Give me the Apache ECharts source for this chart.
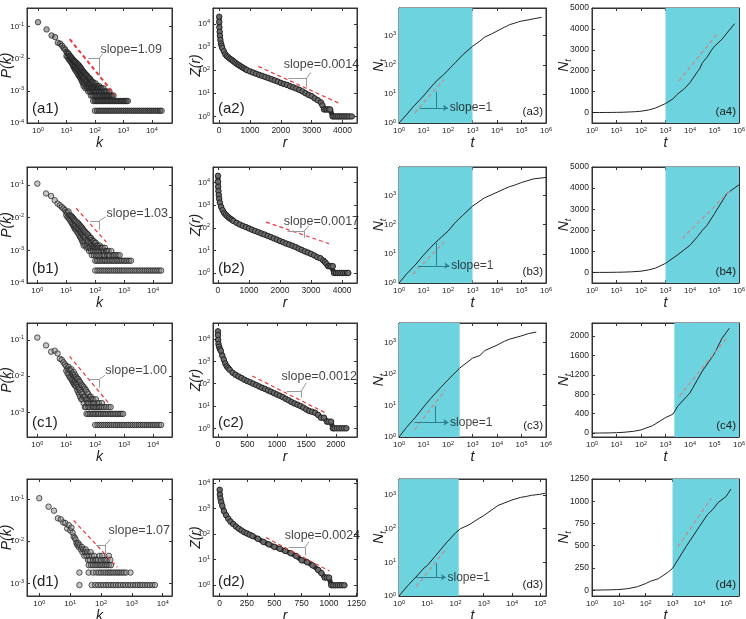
<!DOCTYPE html>
<html>
<head>
<meta charset="utf-8">
<script src="https://cdn.jsdelivr.net/npm/echarts@6/dist/echarts.min.js"></script>
<style>
html,body{margin:0;padding:0;background:#fff}
#main{width:746px;height:619px}
</style>
</head>
<body>
<div id="main"></div>
<script>
// ---------- column 1 : degree distributions P(k) ----------
var degA = [[1,0.134],[2,0.08],[3,0.052],[4,0.046],[5,0.031],[6,0.029],[7,0.025],[8,0.021],[9,0.019],
  [10,0.016],[10,0.012],[11,0.015],[11,0.011],[12,0.014],[12,0.0095],[13,0.012],[13,0.009],[14,0.0115],[14,0.008],[15,0.0105],[15,0.0075],[16,0.0098],[16,0.0068],[17,0.009],[17,0.006],[18,0.0088],[18,0.0055],[19,0.0082],[19,0.005],[20,0.0078],[20,0.0058],[20,0.0045],
  [22,0.0075],[22,0.0052],[22,0.004],[24,0.0068],[24,0.005],[24,0.0036],[26,0.0064],[26,0.0045],[26,0.0031],[28,0.006],[28,0.0041],[28,0.0029],[30,0.0055],[30,0.0038],[30,0.0026],[32,0.005],[32,0.0034],[32,0.0024],[34,0.0046],[34,0.0031],[34,0.0021],[36,0.0043],[36,0.0029],[36,0.0019],[38,0.004],[38,0.0026],[38,0.0017],[40,0.0038],[40,0.0024],[40,0.0014],
  [43,0.0036],[43,0.0026],[43,0.0017],[46,0.0033],[46,0.0021],[46,0.0012],[50,0.0031],[50,0.0019],[50,0.0014],[54,0.0029],[54,0.0021],[54,0.0012],[58,0.0026],[58,0.0017],[58,0.00095],[62,0.0024],[62,0.0014],[62,0.0012],[67,0.0024],[67,0.0017],[67,0.00095],[72,0.0021],[72,0.0012],[72,0.00071],[77,0.0019],[77,0.0014],[77,0.00095],[83,0.0019],[83,0.0012],[83,0.00071],[90,0.0017],[90,0.0012],[90,0.00095],[97,0.0014],[97,0.00095],[97,0.00071],
  [105,0.0017],[105,0.0012],[105,0.00095],[113,0.0014],[113,0.00095],[113,0.00071],[122,0.0014],[122,0.0012],[122,0.00071],[132,0.0012],[132,0.00095],[142,0.0014],[142,0.00095],[142,0.00071],[155,0.0012],[155,0.00071],[168,0.0012],[168,0.00095],[182,0.00095],[182,0.00071],[198,0.0012],[198,0.00071],[215,0.00095],[215,0.00071],[235,0.00095],[235,0.00071],[260,0.00095],[260,0.00071],[290,0.00071],[320,0.00095],[320,0.00071],[360,0.00071],[400,0.00071],[450,0.00071]];
var bandsA = [[2.4e-4,[100,120,140,165,195,230,270,315,370,440,520,610,720,850,1000,1200,1400,1650,1950,2300,2700,3200,3700,4400,5200,6100,7200,8500,10000,11700,13800,16300,19200,22000]],
  [4.8e-4,[87,100,112,125,140,158,178,200,225,252,283,318,357,400,450,505,567,637,715,803,902,1013,1138,1278,1435]]];

var degB = [[1,0.11],[2,0.055],[3,0.046],[4,0.034],[5,0.027],[6,0.024],[7,0.021],[8,0.019],[9,0.017],
  [10,0.015],[10,0.012],[11,0.014],[11,0.0105],[12,0.0155],[12,0.0098],[13,0.012],[13,0.0088],[14,0.0115],[14,0.008],[15,0.011],[15,0.0072],[16,0.0105],[16,0.0066],[17,0.0098],[17,0.006],[18,0.0092],[18,0.0055],[19,0.0085],[19,0.005],[20,0.008],[20,0.0058],[20,0.0045],
  [22,0.0076],[22,0.0052],[22,0.0041],[24,0.0071],[24,0.0048],[24,0.0036],[26,0.0066],[26,0.0045],[26,0.0033],[28,0.0062],[28,0.0043],[28,0.0029],[30,0.0057],[30,0.0038],[30,0.0026],[32,0.0053],[32,0.0036],[32,0.0024],[34,0.005],[34,0.0033],[34,0.0021],[36,0.0047],[36,0.0031],[36,0.0019],[38,0.0043],[38,0.0029],[38,0.0017],[40,0.0041],[40,0.0026],[40,0.0014],
  [43,0.0038],[43,0.0026],[43,0.0019],[46,0.0036],[46,0.0024],[46,0.0014],[50,0.0033],[50,0.0021],[50,0.0012],[54,0.0031],[54,0.0019],[54,0.0014],[58,0.0029],[58,0.0019],[58,0.0012],[62,0.0026],[62,0.0017],[62,0.00095],[67,0.0024],[67,0.0014],[67,0.0012],[72,0.0024],[72,0.0017],[72,0.00095],[77,0.0021],[77,0.0014],[77,0.00071],[83,0.0019],[83,0.0012],[83,0.00095],[90,0.0019],[90,0.0014],[90,0.00071],[97,0.0017],[97,0.0012],[97,0.00095],
  [105,0.0017],[105,0.0012],[105,0.00071],[113,0.0014],[113,0.00095],[122,0.0014],[122,0.0012],[122,0.00071],[132,0.0012],[132,0.00095],[142,0.0014],[142,0.00071],[155,0.0012],[155,0.00095],[168,0.0012],[168,0.00071],[182,0.00095],[182,0.0012],[198,0.00095],[198,0.00071],[215,0.0012],[215,0.00071],[235,0.00095],[260,0.00095],[260,0.00071],[290,0.00095],[290,0.00071],[320,0.00071],[360,0.00095],[400,0.00071],[450,0.00071],[520,0.00071],[600,0.00071],[700,0.00071]];
var bandsB = [[2.4e-4,[100,120,140,165,195,230,270,315,370,440,520,610,720,850,1000,1200,1400,1650,1950,2300,2700,3200,3700,4400,5200,6100,7200,8500,10000,11700,13800,16300,19000]],
  [4.8e-4,[100,115,130,150,170,195,220,250,290,330,380,430,500,570,650,750,860,990,1130,1300,1500,1720]]];

var degC = [[1,0.115],[2,0.07],[3,0.047],[4,0.05],[5,0.042],[6,0.03],[7,0.028],[8,0.024],[9,0.021],
  [10,0.019],[10,0.014],[11,0.016],[11,0.012],[12,0.018],[12,0.011],[13,0.015],[13,0.0095],[14,0.014],[14,0.0091],[15,0.0155],[15,0.0082],[16,0.012],[16,0.0077],[17,0.011],[17,0.0068],[18,0.013],[18,0.0064],[19,0.0095],[19,0.0059],[20,0.011],[20,0.0077],[20,0.0055],
  [22,0.0095],[22,0.0064],[22,0.005],[24,0.0086],[24,0.0059],[24,0.0041],[26,0.0082],[26,0.005],[26,0.0036],[28,0.0073],[28,0.0045],[28,0.0032],[30,0.0068],[30,0.0041],[30,0.0027],[33,0.0059],[33,0.0036],[33,0.0023],[36,0.0055],[36,0.0032],[36,0.0023],[40,0.005],[40,0.0027],[40,0.0018],
  [44,0.0045],[44,0.0027],[44,0.0014],[48,0.0041],[48,0.0023],[48,0.0014],[53,0.0036],[53,0.0023],[53,0.0018],[58,0.0032],[58,0.0018],[58,0.0014],[64,0.0027],[64,0.0023],[64,0.0014],[70,0.0027],[70,0.0018],[77,0.0023],[77,0.0014],[85,0.0023],[85,0.0018],[85,0.0014],[95,0.0018],[95,0.0014],[105,0.0023],[105,0.0014],[120,0.0018],[120,0.0014],[135,0.0018],[135,0.0014],[150,0.0014],[170,0.0018],[170,0.0014],[200,0.0014],[240,0.0014],[290,0.0014],[340,0.0014]];
var bandsC = [[4.5e-4,[100,120,140,165,195,230,270,315,370,440,520,610,720,850,1000,1200,1400,1650,1950,2300,2700,3200,3700,4400,5200,6100,7200,8500,10000,11700,13800,16300,19000]],
  [9.1e-4,[50,57,65,75,85,97,110,125,140,160,185,210,240,275,315,360,410,470,540,620,710,810,920]]];

var degD = [[1,0.105],[2,0.066],[3,0.053],[4,0.035],[5,0.033],[6,0.028],[7,0.027],[8,0.02],[9,0.024],[10,0.018],[11,0.021],[12,0.016],[13,0.013],[14,0.012],[15,0.011],[16,0.0091],[17,0.0082],[18,0.0091],[19,0.0073],[20,0.0082],[22,0.0064],[24,0.0073],[25,0.0055],[27,0.0064],[29,0.0045],[30,0.0055],[32,0.0064],[34,0.0045],[36,0.0055],[38,0.0036],[40,0.0045],[43,0.0036],[46,0.0055],[50,0.0045],[55,0.0036],[60,0.0045],[65,0.0036],[70,0.0036],[80,0.0036],[90,0.0045],[100,0.0036],[110,0.0045],[125,0.0036],[140,0.0036],[160,0.0036],[180,0.0045],[200,0.0036]];
var bandsD = [[9.1e-4,[20,50,65,80,100,120,145,175,210,250,300,360,430,520,620,750,900,1080,1300,1550,1850,2200,2650,3200,3800,4600,5600]],
  [1.8e-3,[20,40,55,70,85,100,120,140,165,190,220,255,300,350,400,470,550,650,900]],
  [2.7e-3,[40,47,55,65,75,88,100,115,135,155,180,210]]];

var fit1 = [[[13,0.04],[500,7.4e-4]],[[22,0.0194],[240,0.0018]],[[13,0.035],[310,0.0017]],[[13,0.031],[340,0.0024]]];
var slope1Txt = ['slope=1.09','slope=1.03','slope=1.00','slope=1.07'];
var slope1At = [[150,0.0194],[235,0.0129],[215,0.0146],[168,0.0177]];
var brk1 = [[[58,0.0104],[142,0.0104],[142,0.003],[186,0.014]],
            [[67,0.008],[140,0.008],[140,0.0042],[230,0.0107]],
            [[67,0.0081],[140,0.0081],[140,0.0048],[215,0.0105]],
            [[69,0.0082],[138,0.0082],[138,0.0047],[200,0.011]]];

// ---------- column 2 : Z(r) ----------
var zipfA = [[1,20000],[3,12000],[8,7000],[15,4500],[25,3000],[40,2000],[60,1400],[80,1100],[100,900],[150,650],[200,480],[250,400],[300,350],[350,310],[400,280],[450,250],[500,220],[550,195],[600,175],[650,160],[700,145],[750,132],[800,120],[850,110],[900,100],[1000,88],[1100,78],[1200,70],[1300,62],[1400,56],[1500,50],[1600,45],[1700,40],[1800,36],[1900,32],[2000,28],[2100,25],[2200,23],[2300,20],[2400,18],[2500,16],[2600,14],[2700,12],[2800,10],[2900,8.5],[3000,7.5],[3100,6],[3200,5],[3300,4],[3350,3],[3400,2],[3450,2],[3500,2],[3550,2],[3600,2],[3680,1],[3740,1],[3800,1],[3860,1],[3920,1],[3980,1],[4040,1],[4100,1],[4160,1],[4220,1],[4300,1]];
var zipfB = [[1,20000],[3,11000],[8,6500],[15,4200],[25,2800],[40,1900],[60,1300],[100,850],[150,600],[200,450],[250,380],[300,320],[350,280],[400,250],[450,225],[500,200],[600,165],[700,140],[800,122],[900,107],[1000,94],[1100,82],[1200,72],[1300,64],[1400,56],[1500,50],[1600,44],[1700,39],[1800,34],[1900,30],[2000,26],[2100,23],[2200,20],[2300,18],[2400,16],[2500,14],[2600,12],[2700,10.5],[2800,9],[2900,8],[3000,7],[3100,6],[3200,5],[3300,4.5],[3400,3.5],[3450,3],[3500,2.5],[3550,2],[3600,2],[3650,2],[3700,2],[3740,1],[3800,1],[3860,1],[3920,1],[3980,1],[4040,1],[4100,1],[4160,1],[4200,1]];
var zipfC = [[1,22000],[2,15000],[5,9000],[10,6000],[20,4500],[35,3500],[50,3000],[75,1800],[100,1200],[125,800],[150,600],[175,500],[200,420],[250,310],[300,250],[350,210],[400,180],[450,150],[500,130],[550,115],[600,100],[650,87],[700,75],[750,66],[800,58],[850,50],[900,44],[950,38],[1000,33],[1050,29],[1100,25],[1150,21],[1200,18],[1250,15],[1300,13],[1350,11.5],[1400,10],[1450,8.5],[1500,7],[1550,6],[1600,5.5],[1650,5],[1700,4],[1750,3],[1800,3],[1850,2],[1880,2],[1920,2],[1950,1],[1980,1],[2020,1],[2060,1],[2100,1],[2140,1],[2180,1]];
var zipfD = [[1,5500],[3,3500],[8,2500],[15,1800],[25,1300],[40,800],[60,550],[80,400],[100,310],[125,250],[150,200],[175,165],[200,140],[225,120],[250,107],[275,95],[300,85],[350,66],[400,50],[450,40],[500,32],[550,27],[600,22],[650,18],[700,14],[750,9.5],[800,8],[850,6],[900,4],[930,3],[960,2],[980,2],[1000,2],[1020,1],[1040,1],[1060,1],[1080,1],[1100,1],[1120,1],[1140,1]];

var fit2 = [[[1268,145],[3870,3.8]],[[1549,178],[3574,20]],[[583,220],[1833,4.8]],[[423,74],[1003,3.6]]];
var slope2Txt = ['slope=0.0014','slope=0.0017','slope=0.0012','slope=0.0024'];
var slope2At = [[2080,170],[2100,195],[1070,219],[590,85]];
var brk2 = [[[2244,45],[2840,45],[2840,18.7],[2970,79]],
            [[2240,71],[2774,71],[2774,36],[2934,126]],
            [[1167,47],[1417,47],[1417,24],[1500,110]],
            [[631,30],[780,30],[780,15],[815,50]]];

// ---------- columns 3 & 4 : N_t vs t ----------
var ntA = [[1,1],[2,1.9],[4,3.8],[7,6.2],[10,8.5],[20,17],[40,32],[60,42],[100,65],[200,120],[400,220],[1000,430],[2000,650],[3000,870],[6000,1150],[10000,1430],[20000,1950],[25000,2100],[32000,2380],[50000,2650],[75000,2980],[100000,3170],[200000,3500],[320000,3800],[660000,4250]];
var ntB = [[1,1],[2,2],[5,4.5],[10,9],[20,17],[40,30],[100,60],[200,120],[400,210],[1000,430],[3000,820],[10000,1290],[20000,1690],[32000,2000],[50000,2240],[100000,2790],[320000,3740],[1000000,4160]];
var ntC = [[1,1],[2,2],[5,4.5],[10,9],[20,17],[50,37],[100,66],[300,155],[1000,320],[2000,390],[3200,560],[10000,830],[20000,1100],[32000,1280],[100000,1640],[200000,1950],[400000,2160]];
var ntD = [[1,1],[2,2],[5,4.5],[8,7],[10,8],[20,16],[50,40],[100,75],[150,100],[300,130],[630,195],[1000,245],[3200,490],[10000,715],[20000,850],[32000,910],[50000,985],[100000,1055],[150000,1137]];

var fit3 = [[[4.4,2.2],[67,31]],[[3.7,2],[72,26]],[[4.3,1.7],[79,32]],[[4,1.9],[50,27]]];
var tri3H = [[[7,3.3],[100,3.3]],[[6,3.9],[115,3.9]],[[4.3,2.9],[105,2.9]],[[4,3.6],[46,3.6]]];
var tri3V = [[[34,3.3],[34,12]],[[33,3.9],[33,24]],[[31,2.9],[31,9.7]],[[21,3.6],[21,9.5]]];
var slope3At = [[112,3.3],[128,3.9],[116,2.9],[50,3.6]];
var fit4 = [[[3450,1508],[140000,3810]],[[4800,1610],[460000,3900]],[[3700,764],[340000,1980]],[[1590,489],[27500,1035]]];
var shade3 = [[1,1000],[1,1000],[1,300],[1,130]];
var shade4 = [[1000,1e6],[1000,1e6],[2300,1e6],[1000,3e5]];

// ---------- axes ----------
var kRange = [[0.41,51000],[0.44,45000],[0.44,45000],[0.4,20000]];
var pRange = [[1e-4,0.37],[1e-4,0.355],[2.1e-4,0.29],[5e-4,0.3]];
var rRange = [[-200,4470],[-160,4480],[-83,2360],[-60,1255]];
var zRange = [[0.52,48000],[0.36,49000],[0.41,52000],[0.38,14500]];
var t3Range = [[1,1e6],[1,1e6],[1,1e6],[1,1.6e5]];
var n3Range = [[1,8900],[1,9500],[1,4200],[1,3000]];
var t4Range = [[1,1e6],[1,1e6],[1,1e6],[1,3e5]];
var n4Range = [[-500,5000],[-500,5000],[-80,2270],[-65,1250]];
var rTicks = [[0,1000,2000,3000,4000],[0,1000,2000,3000,4000],[0,500,1000,1500,2000],[0,250,500,750,1000,1250]];
var n4Ticks = [[0,1000,2000,3000,4000,5000],[0,1000,2000,3000,4000,5000],[0,400,800,1200,1600,2000],[0,250,500,750,1000,1250]];
var panelTags = [['(a1)','(a2)','(a3)','(a4)'],['(b1)','(b2)','(b3)','(b4)'],['(c1)','(c2)','(c3)','(c4)'],['(d1)','(d2)','(d3)','(d4)']];

var degData = [degA, degB, degC, degD];
var degBands = [bandsA, bandsB, bandsC, bandsD];
var zipfData = [zipfA, zipfB, zipfC, zipfD];
var ntData = [ntA, ntB, ntC, ntD];

var FONT = '"Liberation Sans", Arial, Helvetica, sans-serif';
var RED = '#e8383d';
var CYAN = '#6dd3df';
var TEAL = '#2f7e8e';
var FIT34 = '#c98a84';

var colBox = [[27,145],[213,144],[399,147],[592,147]];
var rowBox = [[8,115],[167,116],[323,114],[479,117]];

function logLabel(v) {
    var l = Math.log(v) / Math.LN10;
    var e = Math.round(l);
    if (Math.abs(l - e) > 1e-6) return '';
    return '{b|10}{s|' + e + '}';
}

function plainLabel(v) { return String(v); }

function makeAxis(gi, type, range, name, gap, ticks, mirror) {
    var ax = {
        type: type, gridIndex: gi, min: range[0], max: range[1],
        axisLine: {show: true, onZero: false, lineStyle: {color: '#333', width: 1}},
        axisTick: {show: true, inside: true, length: 3, lineStyle: {color: '#333'}},
        axisLabel: {show: !mirror, fontFamily: FONT, fontSize: 8.5, color: '#222', margin: 3, formatter: plainLabel,
            rich: {b: {fontFamily: FONT, fontSize: 8, color: '#222'},
                   s: {fontFamily: FONT, fontSize: 5.5, color: '#222', verticalAlign: 'top', padding: [0, 0, 4, 0]}}},
        splitLine: {show: false},
        minorTick: {show: false}
    };
    if (!mirror) {
        ax.name = name;
        ax.nameLocation = 'middle';
        ax.nameGap = gap;
        ax.nameMoveOverlap = false;
        ax.nameTextStyle = {fontFamily: FONT, fontSize: 14, fontStyle: 'italic', color: '#222',
            rich: {n: {fontFamily: FONT, fontSize: 14, fontStyle: 'italic', color: '#222'},
                   t: {fontFamily: FONT, fontSize: 9, fontStyle: 'italic', color: '#222', padding: [9, 0, 0, 0]}}};
    }
    if (type === 'log') {
        ax.logBase = 10;
        ax.axisLabel.formatter = logLabel;
    }
    if (ticks) {
        ax.axisLabel.customValues = ticks;
        ax.axisTick.customValues = ticks;
    }
    return ax;
}

function segs(list) {
    return list.map(function (s) { return [{coord: s[0]}, {coord: s[1]}]; });
}

function textSeries(gi, pt, txt, size) {
    return {type: 'scatter', xAxisIndex: gi, yAxisIndex: gi, data: [pt], symbolSize: 1, silent: true, z: 6,
        itemStyle: {color: 'transparent'},
        label: {show: true, position: 'right', distance: 0, formatter: txt, fontFamily: FONT, fontSize: size, color: '#111'}};
}

function bracketSeries(gi, b, color) {
    return {type: 'line', xAxisIndex: gi, yAxisIndex: gi, data: [], silent: true, z: 5,
        markLine: {silent: true, symbol: ['none', 'none'], animation: false, label: {show: false},
            lineStyle: {color: color, width: 1, type: 'solid'},
            data: segs([[b[0], b[1]], [b[1], b[2]], [b[1], b[3]]])}};
}

var grids = [], xs = [], ys = [], xm = [], ym = [], series = [], titles = [];

for (var r = 0; r < 4; r++) {
    for (var c = 0; c < 4; c++) {
        grids.push({left: colBox[c][0], top: rowBox[r][0], width: colBox[c][1], height: rowBox[r][1],
            show: true, borderColor: '#333', borderWidth: 1, backgroundColor: 'transparent',
            containLabel: false, outerBoundsMode: 'none'});
        var tag = panelTags[r][c];
        if (c < 2) {
            titles.push({text: tag, left: colBox[c][0] + 5, top: rowBox[r][0] + rowBox[r][1] - 22, padding: 0,
                textStyle: {fontFamily: FONT, fontSize: 15, fontWeight: 'normal', color: '#222'}});
        } else {
            titles.push({text: tag, right: 746 - (colBox[c][0] + colBox[c][1]) + 3, top: rowBox[r][0] + rowBox[r][1] - 17, padding: 0,
                textStyle: {fontFamily: FONT, fontSize: 11.5, fontWeight: 'normal', color: '#222'}});
        }
    }
}

function addAxes(g, xt, xr, xn, xg, xticks, yt, yr, yn, yg, yticks) {
    xs[g] = makeAxis(g, xt, xr, xn, xg, xticks);
    ys[g] = makeAxis(g, yt, yr, yn, yg, yticks);
    var mx = makeAxis(g, xt, xr, '', 0, xticks, true);
    mx.position = 'top';
    var my = makeAxis(g, yt, yr, '', 0, yticks, true);
    my.position = 'right';
    xm[g] = mx;
    ym[g] = my;
}

for (var r = 0; r < 4; r++) {
    // column 1
    var g = r * 4;
    addAxes(g, 'log', kRange[r], 'k', 13, null, 'log', pRange[r], 'P(k)', 13, null);
    var pts = degData[r].slice();
    degBands[r].forEach(function (b) { b[1].forEach(function (k) { pts.push([k, b[0]]); }); });
    series.push({type: 'scatter', xAxisIndex: g, yAxisIndex: g, data: pts, symbolSize: 5.5, z: 3,
        itemStyle: {color: r === 0 ? 'rgba(80,80,80,0.6)' : 'rgba(130,130,130,0.55)', borderColor: '#1e1e1e', borderWidth: 0.9}});
    series.push({type: 'line', xAxisIndex: g, yAxisIndex: g, data: fit1[r], symbol: 'none', z: 4,
        lineStyle: {color: RED, width: r === 0 ? 2 : 1.2, type: [4, 3]}});
    series.push(bracketSeries(g, brk1[r], '#9a9a9a'));
    series.push(textSeries(g, slope1At[r], slope1Txt[r], 12.5));

    // column 2
    g = r * 4 + 1;
    addAxes(g, 'value', rRange[r], 'r', 13, rTicks[r], 'log', zRange[r], 'Z(r)', 10, null);
    series.push({type: 'line', xAxisIndex: g, yAxisIndex: g, data: zipfData[r], z: 3,
        symbol: 'circle', symbolSize: 5.5, showAllSymbol: true,
        itemStyle: {color: '#6a6a6a', borderColor: '#1e1e1e', borderWidth: 0.9},
        lineStyle: {color: '#2e2e2e', width: 5}});
    series.push({type: 'line', xAxisIndex: g, yAxisIndex: g, data: fit2[r], symbol: 'none', z: 4,
        lineStyle: {color: RED, width: 1.2, type: [4, 3]}});
    series.push(bracketSeries(g, brk2[r], '#9a9a9a'));
    series.push(textSeries(g, slope2At[r], slope2Txt[r], 12.5));

    // column 3
    g = r * 4 + 2;
    addAxes(g, 'log', t3Range[r], 't', 13, null, 'log', n3Range[r], '{n|N}{t|t}', 11, null);
    series.push({type: 'line', xAxisIndex: g, yAxisIndex: g, data: ntData[r], symbol: 'none', z: 1, silent: true,
        lineStyle: {width: 0, opacity: 0},
        markArea: {silent: true, itemStyle: {color: CYAN}, data: [[{xAxis: shade3[r][0]}, {xAxis: shade3[r][1]}]]}});
    series.push({type: 'line', xAxisIndex: g, yAxisIndex: g, data: ntData[r], symbol: 'none', z: 4,
        lineStyle: {color: '#222', width: 1}});
    series.push({type: 'line', xAxisIndex: g, yAxisIndex: g, data: fit3[r], symbol: 'none', z: 4,
        lineStyle: {color: FIT34, width: 1.2, type: [4, 3]}});
    series.push({type: 'line', xAxisIndex: g, yAxisIndex: g, data: [], silent: true, z: 5,
        markLine: {silent: true, symbol: ['none', 'none'], label: {show: false},
            lineStyle: {color: TEAL, width: 1, type: 'solid'},
            data: [[{coord: tri3H[r][0]}, {coord: tri3H[r][1], symbol: 'arrow', symbolSize: 5}],
                   [{coord: tri3V[r][0]}, {coord: tri3V[r][1]}]]}});
    series.push(textSeries(g, slope3At[r], 'slope=1', 12));

    // column 4
    g = r * 4 + 3;
    addAxes(g, 'log', t4Range[r], 't', 13, null, 'value', n4Range[r], '{n|N}{t|t}', 19, n4Ticks[r]);
    series.push({type: 'line', xAxisIndex: g, yAxisIndex: g, data: ntData[r], symbol: 'none', z: 1, silent: true,
        lineStyle: {width: 0, opacity: 0},
        markArea: {silent: true, itemStyle: {color: CYAN}, data: [[{xAxis: shade4[r][0]}, {xAxis: shade4[r][1]}]]}});
    series.push({type: 'line', xAxisIndex: g, yAxisIndex: g, data: ntData[r], symbol: 'none', z: 4,
        lineStyle: {color: '#222', width: 1}});
    series.push({type: 'line', xAxisIndex: g, yAxisIndex: g, data: fit4[r], symbol: 'none', z: 4,
        lineStyle: {color: FIT34, width: 1.2, type: [4, 3]}});
}

series.forEach(function (s) { s.animation = false; });

var chart = echarts.init(document.getElementById('main'));
chart.setOption({
    animation: false,
    backgroundColor: '#fff',
    title: titles,
    grid: grids,
    xAxis: xs.concat(xm),
    yAxis: ys.concat(ym),
    series: series
});
</script>
</body>
</html>
